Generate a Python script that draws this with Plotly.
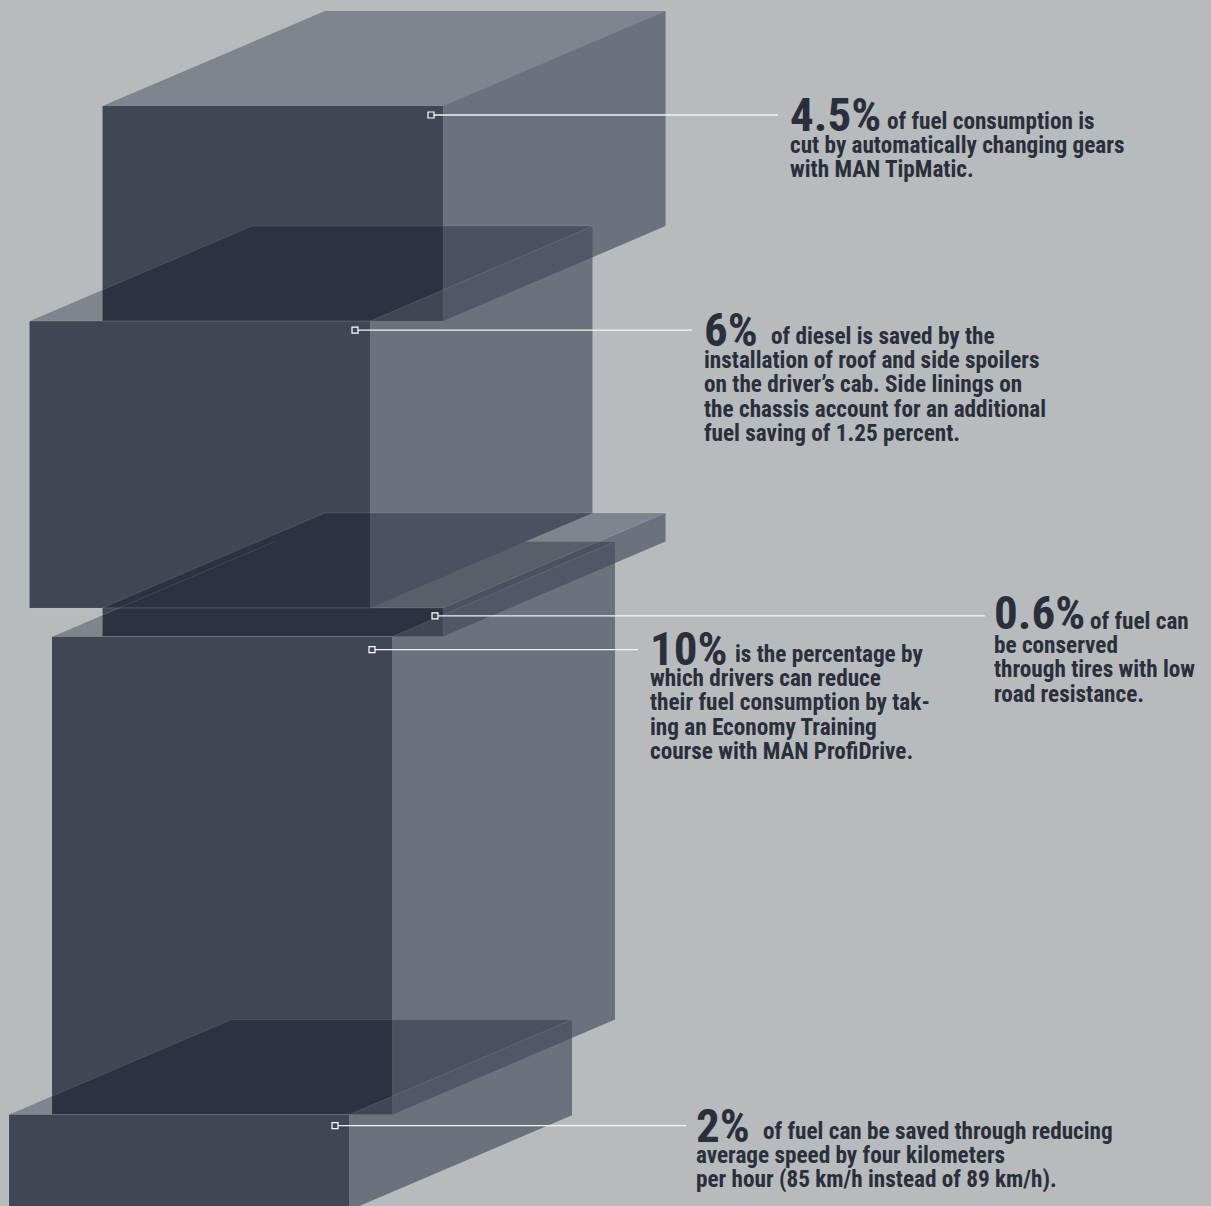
import plotly.graph_objects as go

# Fuel saving per measure, in percent, stacked from the top
labels = ["4.5%", "6%", "0.6%", "10%", "2%"]
savings = [4.5, 6.0, 0.6, 10.0, 2.0]
lead_text = [
    "of fuel consumption is",
    "of diesel is saved by the",
    "of fuel can",
    "is the percentage by",
    "of fuel can be saved through reducing",
]
body_text = [
    ["cut by automatically changing gears", "with MAN TipMatic."],
    ["installation of roof and side spoilers", "on the driver\u2019s cab. Side linings on",
     "the chassis account for an additional", "fuel saving of 1.25 percent."],
    ["be conserved", "through tires with low", "road resistance."],
    ["which drivers can reduce", "their fuel consumption by tak-", "ing an Economy Training",
     "course with MAN ProfiDrive."],
    ["average speed by four kilometers", "per hour (85 km/h instead of 89 km/h)."],
]

# Canvas and box geometry
W, H = 1211, 1206
PX_PER_PCT = 47.8
STACK_TOP = 106
BOX_W = 340.5
DEPTH_X, DEPTH_Y = 222.5, 95
box_left = [102.5, 29.5, 102.5, 52, 9]

# Text block layout: left edge, first-line centre, lead-in x, big label centre, leader span
text_x = [789, 703, 993, 649, 695]
line1_y = [121, 336, 621, 654, 1131]
lead_x = [886, 770, 1089, 734, 762]
big_y = [114, 329, 612, 648, 1125]
leader_x0 = [431, 355, 435, 372, 335]
leader_x1 = [778, 692, 985, 638, 686]
leader_drop = [9, 9, 8, 13, 11]
LINE_STEP = 24.2

INK = "#2a2f3b"
FRONT = "#404653"
TOP = "rgba(0,7,28,0.30)"
SIDE_SOLID = "#6c717e"
SIDE_GLASS = "rgba(68,74,93,0.66)"
EDGE = "rgba(255,255,255,0.14)"
FONT = "Roboto Condensed"

depth = DEPTH_Y / PX_PER_PCT
y0 = -STACK_TOP / PX_PER_PCT
y1 = (H - STACK_TOP) / PX_PER_PCT

tops, bottoms = [], []
running = 0.0
for v in savings:
    tops.append(running)
    running += v
    bottoms.append(running)


def front_path(i):
    x, a, b = box_left[i], tops[i], bottoms[i]
    return [x, x + BOX_W, x + BOX_W, x, x], [a, a, b, b, a]


def top_path(i):
    x, a = box_left[i], tops[i]
    return ([x, x + BOX_W, x + BOX_W + DEPTH_X, x + DEPTH_X, x],
            [a, a, a - depth, a - depth, a])


def side_path(i):
    x, a, b = box_left[i] + BOX_W, tops[i], bottoms[i]
    return ([x, x + DEPTH_X, x + DEPTH_X, x, x],
            [a, a - depth, b - depth, b, a])


fig = go.Figure()


def face(path, fill):
    xs, ys = path
    fig.add_trace(go.Scatter(x=xs, y=ys, mode="lines", fill="toself", fillcolor=fill,
                             line=dict(width=0), hoverinfo="skip", showlegend=False))


def outline(path, colour=EDGE, width=0.7):
    xs, ys = path
    fig.add_trace(go.Scatter(x=xs, y=ys, mode="lines", line=dict(color=colour, width=width),
                             hoverinfo="skip", showlegend=False))


# Painter's order: each face sits over or under its neighbours so the overlaps darken
face(side_path(4), SIDE_SOLID)
face(side_path(3), SIDE_GLASS)
face(front_path(3), FRONT)
face(top_path(4), TOP)
outline(top_path(4))
face(front_path(4), FRONT)

face(side_path(2), SIDE_GLASS)
face(front_path(2), FRONT)
face(top_path(3), TOP)
outline(top_path(3))

face(side_path(1), SIDE_SOLID)
face(front_path(1), FRONT)
face(top_path(2), TOP)
outline(top_path(2))

face(side_path(0), SIDE_GLASS)
face(front_path(0), FRONT)
face(top_path(1), TOP)
outline(top_path(1))
face(top_path(0), TOP)

# The hidden rear-left edge of the fourth box still shows through the box above it
xs, ys = top_path(3)
outline((xs[3:5], ys[3:5]))
for i in range(5):
    outline(front_path(i), "rgba(255,255,255,0.06)", 0.8)

# Leaders and their small square end markers
for i in range(5):
    ly = tops[i] + leader_drop[i] / PX_PER_PCT
    fig.add_trace(go.Scatter(x=[leader_x0[i], leader_x1[i]], y=[ly, ly], mode="lines",
                             line=dict(color="#f2f3f4", width=1.3),
                             hoverinfo="skip", showlegend=False))
    fig.add_trace(go.Scatter(x=[leader_x0[i]], y=[ly], mode="markers",
                             marker=dict(symbol="square", size=6, color=FRONT,
                                         line=dict(color="white", width=1.2)),
                             hoverinfo="skip", showlegend=False))


def note(x, y, text, size):
    fig.add_annotation(xref="paper", yref="paper", x=x / W, y=1 - y / H, text=text,
                       showarrow=False, xanchor="left", yanchor="middle", align="left",
                       font=dict(family=FONT, size=size, color=INK), borderpad=0)


for i in range(5):
    note(text_x[i], big_y[i], f"<b>{labels[i]}</b>", 47)
    note(lead_x[i], line1_y[i], f"<b>{lead_text[i]}</b>", 23.2)
    for k, line in enumerate(body_text[i], start=1):
        note(text_x[i], line1_y[i] + k * LINE_STEP, f"<b>{line}</b>", 23.2)

fig.update_layout(
    width=W, height=H, autosize=False,
    margin=dict(l=0, r=0, t=0, b=0),
    paper_bgcolor="#b8bbbe", plot_bgcolor="#b8bbbe",
    showlegend=False,
    xaxis=dict(range=[0, W], visible=False, fixedrange=True),
    yaxis=dict(range=[y1, y0], visible=False, fixedrange=True),
)

fig.write_html("out.html")
